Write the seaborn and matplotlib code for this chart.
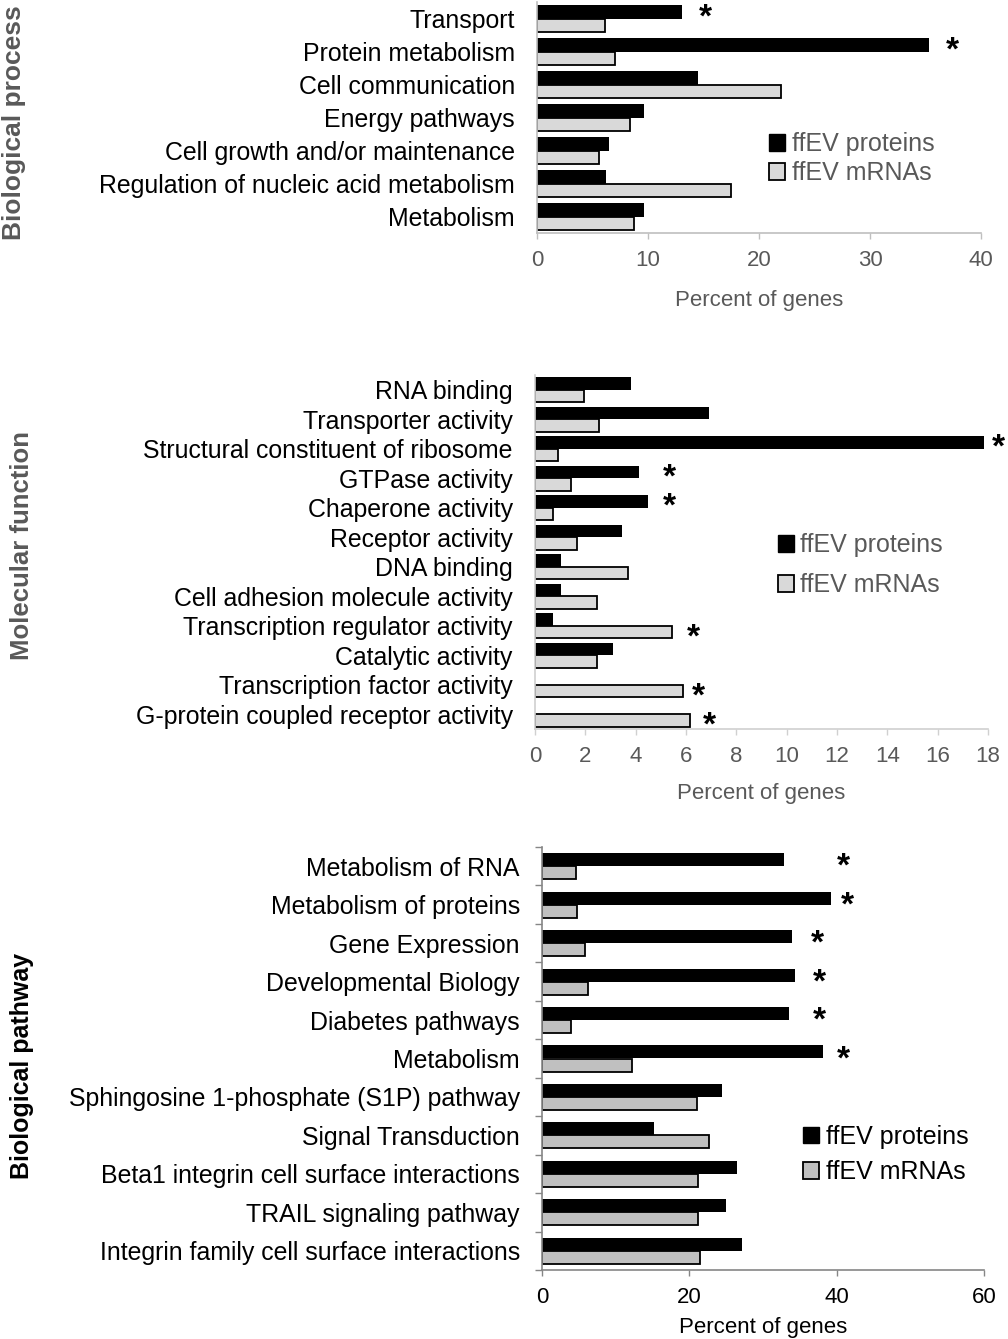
import matplotlib
matplotlib.use("Agg")
import matplotlib.pyplot as plt
from matplotlib.patches import Patch
import numpy as np
import pandas as pd
import seaborn as sns

# Biological process
bp_terms = [
    "Transport",
    "Protein metabolism",
    "Cell communication",
    "Energy pathways",
    "Cell growth and/or maintenance",
    "Regulation of nucleic acid metabolism",
    "Metabolism",
]
bp_proteins = [13.1, 35.3, 14.5, 9.6, 6.5, 6.2, 9.6]
bp_mrnas = [6.1, 7.0, 22.0, 8.4, 5.6, 17.5, 8.7]
# significance marks: (term index, x position, series the mark sits on)
bp_stars = [(0, 15.2, "p"), (1, 37.4, "p")]

# Molecular function
mf_terms = [
    "RNA binding",
    "Transporter activity",
    "Structural constituent of ribosome",
    "GTPase activity",
    "Chaperone activity",
    "Receptor activity",
    "DNA binding",
    "Cell adhesion molecule activity",
    "Transcription regulator activity",
    "Catalytic activity",
    "Transcription factor activity",
    "G-protein coupled receptor activity",
]
mf_proteins = [3.8, 6.9, 17.85, 4.15, 4.5, 3.45, 1.05, 1.05, 0.7, 3.1, 0.0, 0.0]
mf_mrnas = [1.95, 2.55, 0.9, 1.45, 0.7, 1.65, 3.7, 2.45, 5.45, 2.45, 5.9, 6.15]
mf_stars = [(2, 18.4, "p"), (3, 5.35, "p"), (4, 5.35, "p"),
            (8, 6.3, "m"), (10, 6.5, "m"), (11, 6.95, "m")]

# Biological pathway
pw_terms = [
    "Metabolism of RNA",
    "Metabolism of proteins",
    "Gene Expression",
    "Developmental Biology",
    "Diabetes pathways",
    "Metabolism",
    "Sphingosine 1-phosphate (S1P) pathway",
    "Signal Transduction",
    "Beta1 integrin cell surface interactions",
    "TRAIL signaling pathway",
    "Integrin family cell surface interactions",
]
pw_proteins = [32.9, 39.2, 33.9, 34.3, 33.5, 38.1, 24.5, 15.2, 26.5, 25.0, 27.2]
pw_mrnas = [4.6, 4.8, 5.85, 6.25, 3.9, 12.2, 21.0, 22.7, 21.2, 21.2, 21.4]
pw_stars = [(0, 40.9, "p"), (1, 41.4, "p"), (2, 37.4, "p"),
            (3, 37.6, "p"), (4, 37.6, "p"), (5, 40.9, "p")]

series = ["ffEV proteins", "ffEV mRNAs"]

sns.set_style("white")
plt.rcParams["font.family"] = ["Liberation Sans", "DejaVu Sans"]

W, H = 1008, 1339
fig = plt.figure(figsize=(W / 100, H / 100), dpi=100)


def box(left, top, right, bottom):
    return [left / W, 1 - bottom / H, (right - left) / W, (bottom - top) / H]


def panel(ax, terms, proteins, mrnas, stars, width, xmax, step, light, txt,
          spine, leg_xy, leg_space, xlabelpad, ypad, boundary_ticks=False):
    df = pd.DataFrame({
        "term": terms * 2,
        "value": proteins + mrnas,
        "series": [series[0]] * len(terms) + [series[1]] * len(terms),
    })
    sns.barplot(data=df, y="term", x="value", hue="series", hue_order=series,
                palette=["black", light], width=width, ax=ax, legend=False,
                saturation=1)
    for bar in ax.containers[0]:
        bar.set_edgecolor("black")
        bar.set_linewidth(0)
    for bar in ax.containers[1]:
        bar.set_edgecolor("black")
        bar.set_linewidth(1.3)
    ax.set_xlim(0, xmax)
    ax.set_xticks(np.arange(0, xmax + step / 2, step))
    ax.set_ylabel("")
    ax.set_xlabel("Percent of genes", fontsize=16, color=txt,
                  labelpad=xlabelpad)
    ax.tick_params(axis="x", labelsize=16, colors=spine, direction="out",
                   length=4, width=1, bottom=True, pad=8)
    ax.tick_params(axis="x", labelcolor=txt)
    ax.tick_params(axis="y", labelsize=17.9, labelcolor="black", length=0,
                   pad=ypad)
    for s in ["top", "right"]:
        ax.spines[s].set_visible(False)
    for s in ["left", "bottom"]:
        ax.spines[s].set_color(spine)
        ax.spines[s].set_linewidth(1.2)
    if boundary_ticks:
        ax.set_yticks(np.arange(len(terms) + 1) - 0.5, minor=True)
        ax.tick_params(axis="y", which="minor", length=5, color=spine,
                       width=1, left=True)
    half = width / 4
    for i, x, s in stars:
        y = i - half if s == "p" else i + half
        ax.text(x, y + 0.2, "*", ha="center", va="center", fontsize=24,
                fontweight="bold", color="black", clip_on=False)
    handles = [Patch(facecolor="black", edgecolor="black", label=series[0]),
               Patch(facecolor=light, edgecolor="black", linewidth=1.3,
                     label=series[1])]
    ax.legend(handles=handles, loc="center left", bbox_to_anchor=leg_xy,
              frameon=False, fontsize=18, handlelength=0.65, handleheight=0.65,
              handletextpad=0.25, borderpad=0, borderaxespad=0,
              labelspacing=leg_space, labelcolor=txt)


gray_txt = "#595959"

ax1 = fig.add_axes(box(537, 2, 981, 233))
panel(ax1, bp_terms, bp_proteins, bp_mrnas, bp_stars, 0.82, 40, 10,
      "#d9d9d9", gray_txt, "#bfbfbf", (0.523, 0.322), 0.2, 14, 16)

ax2 = fig.add_axes(box(535, 375, 988, 729))
panel(ax2, mf_terms, mf_proteins, mf_mrnas, mf_stars, 0.84, 18, 2,
      "#d9d9d9", gray_txt, "#d0d0d0", (0.536, 0.463), 0.65, 12, 16)

ax3 = fig.add_axes(box(542, 847, 984, 1270))
panel(ax3, pw_terms, pw_proteins, pw_mrnas, pw_stars, 0.68, 60, 20,
      "#c0c0c0", "black", "#868686", (0.591, 0.273), 0.45, 7, 16,
      boundary_ticks=True)

fig.text(14 / W, 1 - 123 / H, "Biological process", rotation=90, ha="center",
         va="center", fontsize=19, fontweight="bold", color=gray_txt)
fig.text(22 / W, 1 - 545 / H, "Molecular function", rotation=90, ha="center",
         va="center", fontsize=18.5, fontweight="bold", color=gray_txt)
fig.text(22 / W, 1 - 1066 / H, "Biological pathway", rotation=90, ha="center",
         va="center", fontsize=18, fontweight="bold", color="black")

fig.savefig("out.png", dpi=100)
